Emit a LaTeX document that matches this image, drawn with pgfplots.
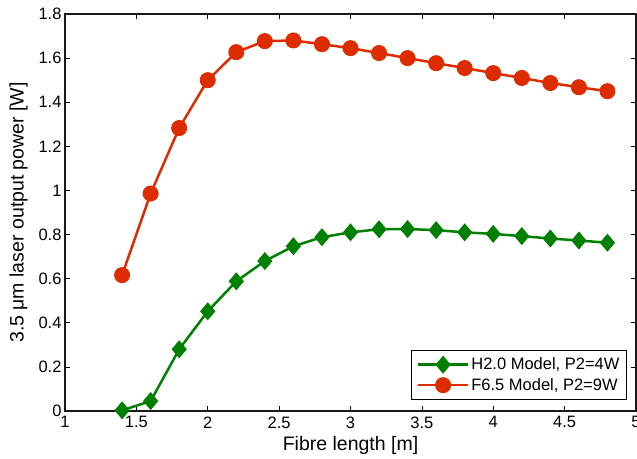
\documentclass[border=0pt]{standalone}
\usepackage{pgfplots}
\pgfplotsset{compat=1.18}
\usepackage{fontspec}
\setmainfont{Liberation Sans}
\definecolor{mgreen}{RGB}{0,128,0}
\definecolor{mred}{RGB}{220,44,0}
\begin{document}
\begin{tikzpicture}
\begin{axis}[
    at={(0,0)}, anchor=south west,
    scale only axis,
    width=571pt, height=397pt,
    xmin=1, xmax=5, ymin=0, ymax=1.8,
    xtick={1,1.5,...,5}, ytick={0,0.2,...,1.8},
    yticklabel style={/pgf/number format/fixed},
    xticklabel style={yshift=-2pt},
    /pgf/number format/assume math mode=true,
    tick align=inside,
    major tick length=5pt,
    tick style={black, line width=0.6pt},
    axis line style={line width=1.2pt, black!90},
    xlabel={Fibre length [m]},
    ylabel={3.5 μm laser output power [W]},
    xlabel style={yshift=-1pt},
    ylabel style={yshift=4pt},
    tick label style={font=\fontsize{16.5pt}{18pt}\selectfont},
    label style={font=\fontsize{19.5pt}{22pt}\selectfont},
    legend style={at={(0.984,0.027)}, anchor=south east, draw=black, line width=0.8pt,
        font=\fontsize{16.5pt}{19pt}\selectfont, inner xsep=5pt, inner ysep=6pt,
        row sep=3pt},
    legend cell align=left,
    legend image code/.code={%
        \draw[mark repeat=2,mark phase=2] plot coordinates {(0pt,0pt) (25pt,0pt) (50pt,0pt)};},
]
\addplot[mgreen, line width=2.5pt, mark=diamond*, mark size=8.4pt,
    mark options={solid, fill=mgreen, line width=0.8pt, xscale=1.12}] coordinates {
(1.4,0.003) (1.6,0.045) (1.8,0.28) (2.0,0.452) (2.2,0.588) (2.4,0.68)
(2.6,0.747) (2.8,0.788) (3.0,0.81) (3.2,0.824) (3.4,0.825) (3.6,0.82)
(3.8,0.81) (4.0,0.803) (4.2,0.793) (4.4,0.782) (4.6,0.773) (4.8,0.763)
};
\addlegendentry{H2.0 Model, P2=4W}
\addplot[mred, line width=2.5pt, mark=*, mark size=7.6pt,
    mark options={solid, fill=mred, draw=mred, line width=0.8pt}] coordinates {
(1.4,0.616) (1.6,0.986) (1.8,1.283) (2.0,1.50) (2.2,1.627) (2.4,1.677)
(2.6,1.68) (2.8,1.663) (3.0,1.645) (3.2,1.623) (3.4,1.60) (3.6,1.577)
(3.8,1.555) (4.0,1.532) (4.2,1.51) (4.4,1.487) (4.6,1.468) (4.8,1.45)
};
\addlegendentry{F6.5 Model, P2=9W}
\end{axis}
\pgfresetboundingbox
\useasboundingbox (-65pt,-47pt) rectangle (572pt,411pt);
\end{tikzpicture}
\end{document}
